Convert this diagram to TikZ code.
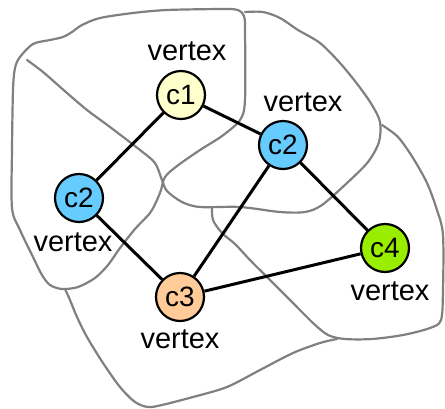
\documentclass[tikz,border=0pt]{standalone}
\usepackage{fontspec}
\setmainfont{Liberation Sans}
\definecolor{colA}{HTML}{FFFFCC}
\definecolor{colB}{HTML}{66CCFF}
\definecolor{colC}{HTML}{FFCC99}
\definecolor{colD}{HTML}{99EE00}
\definecolor{region}{HTML}{808080}
\begin{document}
\begin{tikzpicture}[x=1pt,y=-1pt,
  vnode/.style={circle,draw=black,line width=2.2pt,minimum size=48pt,inner sep=0pt,font=\fontsize{28}{30}\selectfont},
  vlabel/.style={inner sep=0pt,font=\fontsize{29}{31}\selectfont},
  reg/.style={draw=region,line width=2.2pt,line join=round,line cap=round},
  edge/.style={draw=black,line width=3pt}]
\useasboundingbox (0,0) rectangle (445,408);
% region outlines
\draw[reg] plot[smooth cycle,tension=0.5] coordinates {(20,57) (33,44) (50,40) (63,37) (72,32) (82,25) (100,18) (133,13) (167,10) (223,9) (238,10) (244,16) (245,30) (245,100) (240,120) (222,136) (200,150) (177,166) (165,177) (161,190) (157,200) (150,213) (135,229) (120,248) (108,265) (95,278) (78,287) (62,289) (50,285) (42,275) (33,257) (20,230) (12,208) (12,150) (13,90) (15,68)};
\draw[reg] plot[smooth,tension=0.5] coordinates {(27,60) (43,72) (67,93) (87,110) (110,127) (140,150) (155,163) (162,180) (167,191) (182,202) (200,207) (240,207) (280,212) (305,212) (322,205) (347,183) (368,162) (379,142) (380,122) (372,105) (358,85) (340,63) (320,43) (298,30) (280,18) (263,12) (245,12)};
\draw[reg] plot[smooth,tension=0.5] coordinates {(212,207) (213,220) (222,233) (235,244) (250,260) (270,280) (293,303) (313,323) (328,335) (345,339) (372,339) (403,335) (430,328) (441,320) (443,290) (443,235) (437,210) (427,183) (413,158) (398,137) (382,125)};
\draw[reg] plot[smooth,tension=0.5] coordinates {(65,289) (70,300) (77,317) (87,337) (103,363) (120,387) (135,402) (148,407) (162,405) (193,397) (227,387) (260,370) (293,353) (320,343) (337,339)};
% vertices
\node[vnode,fill=colA] (c1) at (181,95) {c1};
\node[vnode,fill=colB] (c2r) at (283,145) {c2};
\node[vnode,fill=colB] (c2l) at (79,198) {c2};
\node[vnode,fill=colC] (c3) at (180,297) {c3};
\node[vnode,fill=colD] (c4) at (385,248) {c4};
% labels
\node[vlabel] (l1) at (187,51) {vertex};
\node[vlabel] (l2r) at (303,102) {vertex};
\node[vlabel] (l2l) at (73,242) {vertex};
\node[vlabel] (l3) at (180,339) {vertex};
\node[vlabel] (l4) at (390,291) {vertex};
% edges
\draw[edge] (c1) -- (c2l);
\draw[edge] (c1) -- (c2r);
\draw[edge] (c2l) -- (c3);
\draw[edge] (c2r) -- (c3);
\draw[edge] (c2r) -- (c4);
\draw[edge] (c3) -- (c4);
\end{tikzpicture}
\end{document}
